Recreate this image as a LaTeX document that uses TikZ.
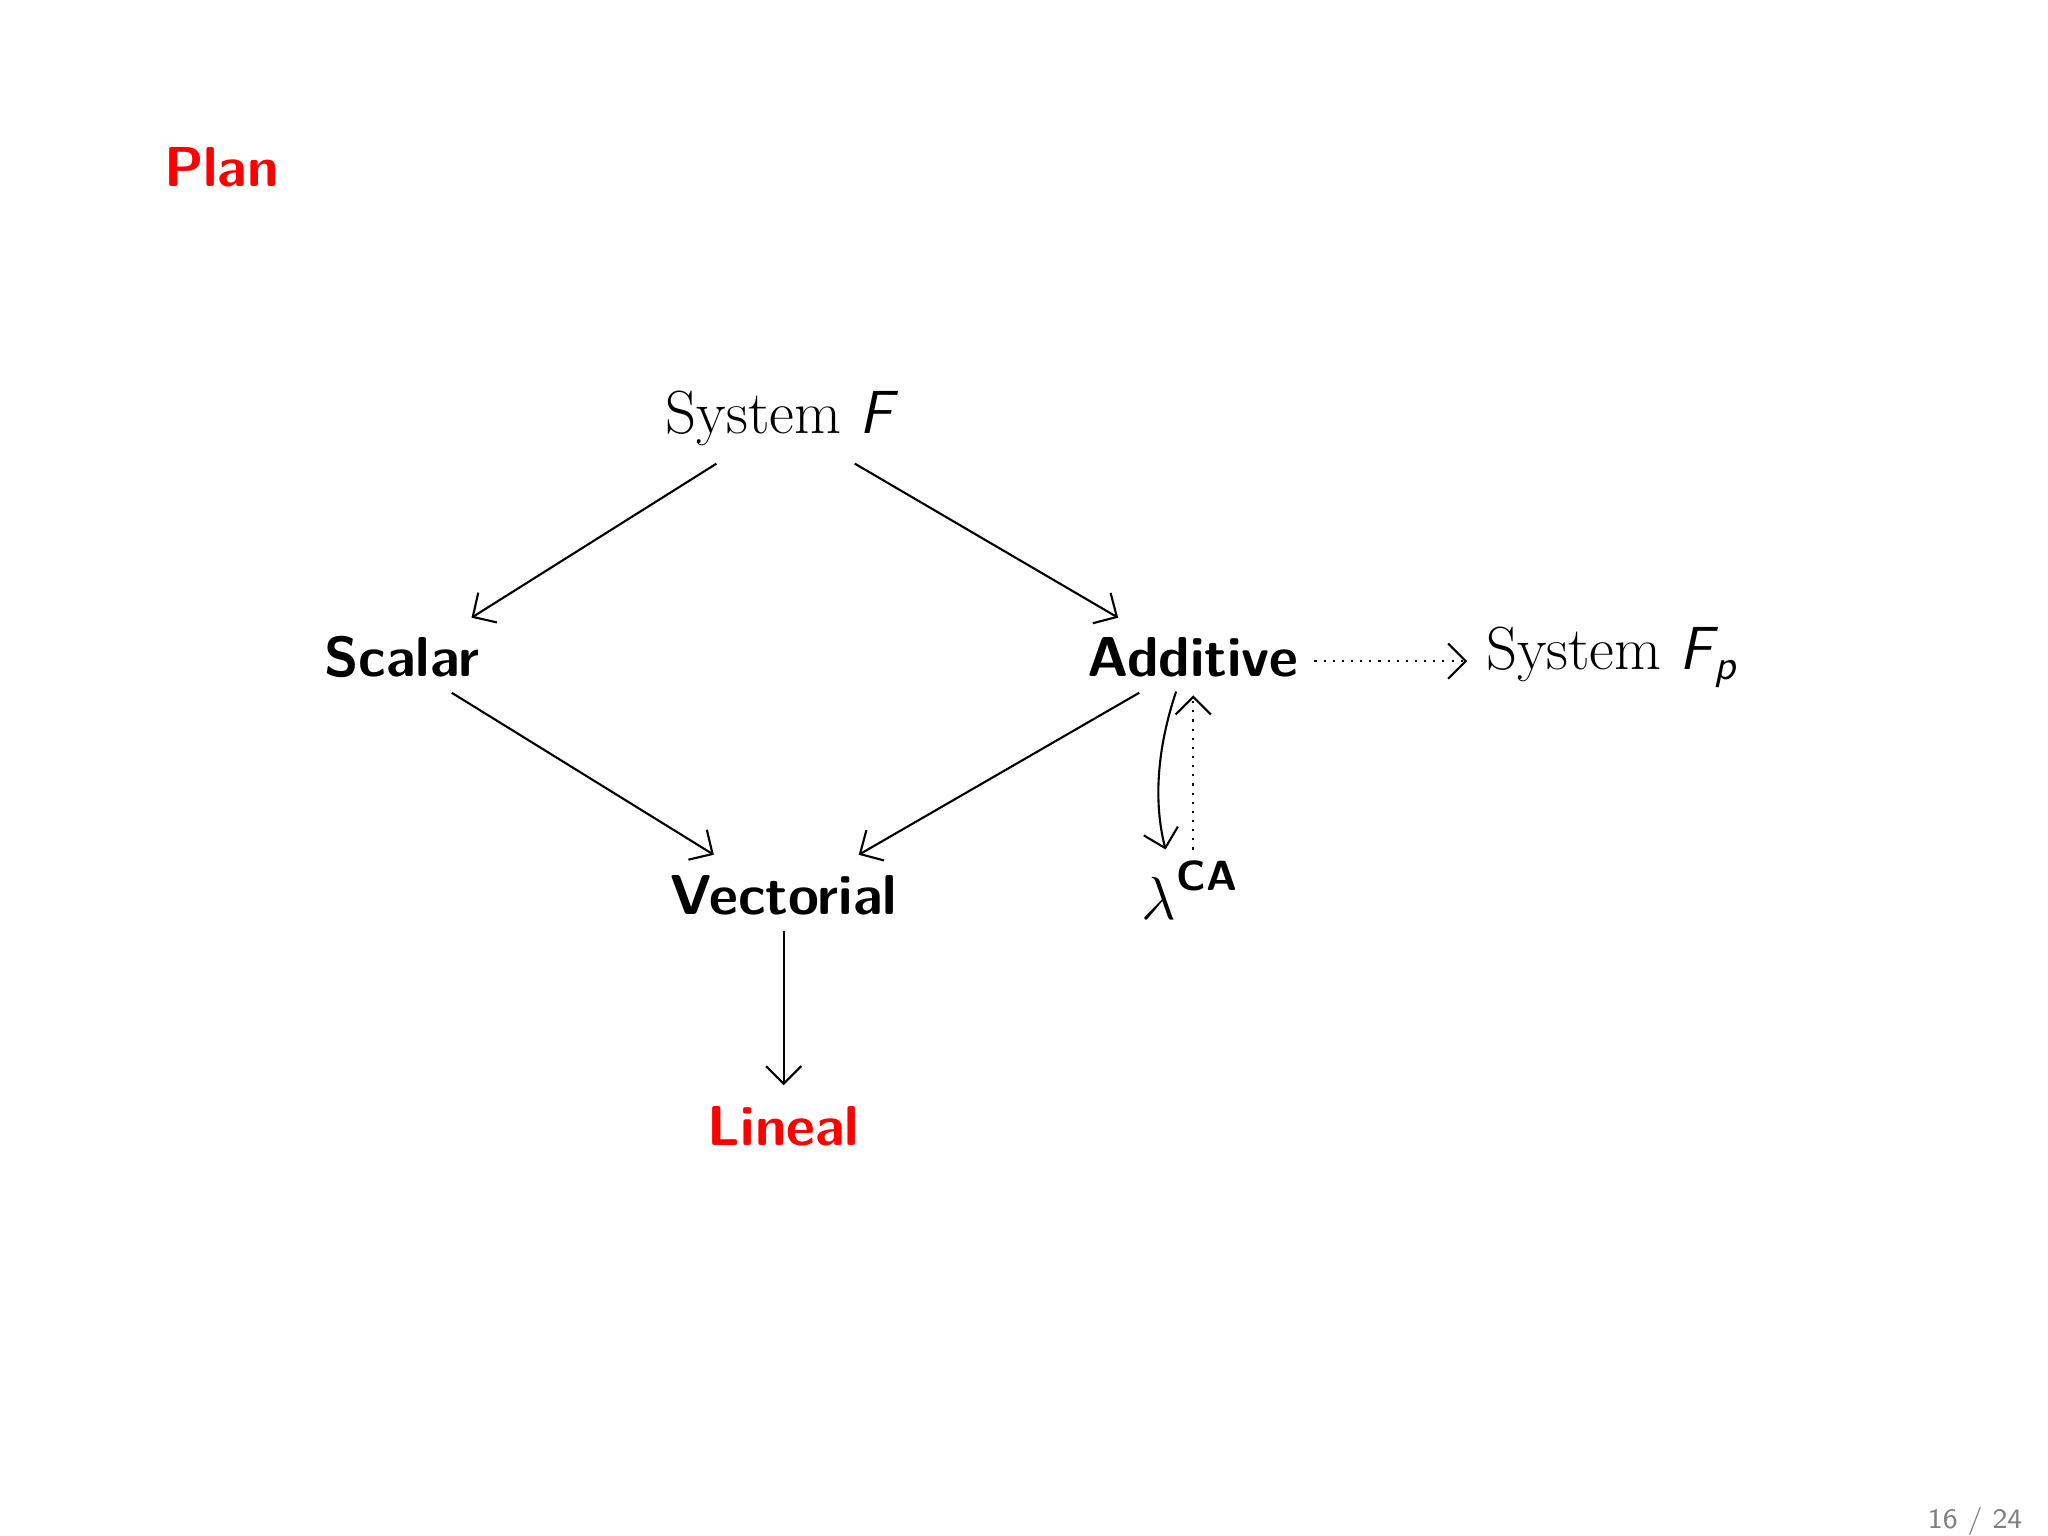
\documentclass[tikz,border=0pt]{standalone}
\usetikzlibrary{arrows.meta}
\begin{document}
\begin{tikzpicture}[x=0.01317cm,y=-0.01317cm,
  lbl/.style={font=\fontsize{16}{19}\selectfont\sffamily\bfseries, inner sep=2pt},
  rm/.style={font=\fontsize{17.3}{20}\selectfont\rmfamily, inner sep=2pt},
  arr/.style={-{Straight Barb[length=5pt,width=10pt]}, line width=0.6pt}]
\useasboundingbox (0,0) rectangle (1555,1166);
\node[anchor=west, inner sep=0pt, text=red, font=\fontsize{16}{19}\selectfont\sffamily\bfseries] (title) at (124,127) {Plan};
\node[rm] (sf) at (594,318) {System \textsf{\textit{F}}};
\node[lbl] (sc) at (305,499) {Scalar};
\node[lbl] (ad) at (906,499) {Additive};
\node[rm] (sfp) at (1223,499) {System \textsf{\textit{F\kern0.5pt\raisebox{-0.4ex}{\fontsize{12}{14}\selectfont p}}}};
\node[lbl] (ve) at (595,680) {Vectorial};
\node[lbl, text=red] (li) at (595,855) {Lineal};
\node[rm] (ca) at (903,676) {$\lambda$\raisebox{1.1ex}{\fontsize{12}{14}\selectfont\sffamily\bfseries CA}};
\node[anchor=east, text=gray, font=\fontsize{8}{10}\selectfont\sffamily] (pg) at (1545,1155) {16 / 24};
\coordinate (a1) at (544,352); \coordinate (a2) at (358,469);
\coordinate (b1) at (649,352); \coordinate (b2) at (849,469);
\coordinate (c1) at (343,526); \coordinate (c2) at (542,649);
\coordinate (d1) at (865,526); \coordinate (d2) at (652,649);
\coordinate (e1) at (595,707); \coordinate (e2) at (595,824);
\coordinate (f1) at (998,502); \coordinate (f2) at (1114,502);
\coordinate (g1) at (893,525); \coordinate (g2) at (885,645);
\coordinate (h1) at (906,645); \coordinate (h2) at (906,528);
\draw[arr] (a1) -- (a2);
\draw[arr] (b1) -- (b2);
\draw[arr] (c1) -- (c2);
\draw[arr] (d1) -- (d2);
\draw[arr] (e1) -- (e2);
\draw[arr, dotted] (f1) -- (f2);
\draw[arr] (g1) .. controls (878,570) and (876,610) .. (g2);
\draw[arr, dotted] (h1) -- (h2);
\end{tikzpicture}
\end{document}
